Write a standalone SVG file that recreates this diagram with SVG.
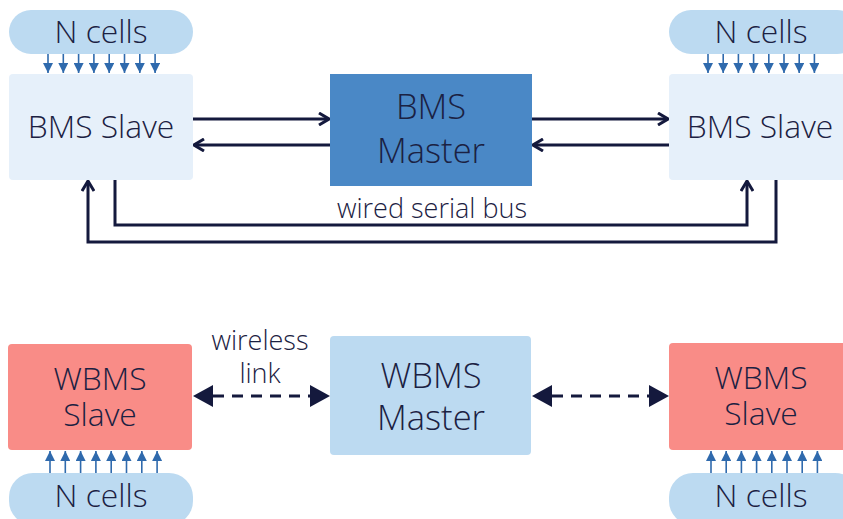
<svg xmlns="http://www.w3.org/2000/svg" width="843" height="519" viewBox="0 0 843 519">
<defs>
<style>
text{font-family:"Open Sans","Noto Sans","Liberation Sans",sans-serif;font-weight:300;fill:#1b2142;text-anchor:middle}
.t30{font-size:31.8px}
.t33{font-size:34.5px}
.t26{font-size:27px}
.cells{fill:#bcdaf1}
.slave{fill:#e6f0fa}
.wslave{fill:#f98c87}
.wire{fill:none;stroke:#14193d;stroke-width:3}
.dash{fill:none;stroke:#14193d;stroke-width:3;stroke-dasharray:11 8}
.ghost{fill:none;stroke:none}
.small{stroke:#2f6aad;stroke-width:1.6}
</style>
<marker id="open" viewBox="0 0 12 14" refX="11" refY="7" markerWidth="12" markerHeight="14" markerUnits="userSpaceOnUse" orient="auto">
<path d="M1,1 L11,7 L1,13" fill="none" stroke="#14193d" stroke-width="3"/>
</marker>
<marker id="solid" viewBox="0 0 20 22" refX="20" refY="11" markerWidth="20" markerHeight="22" markerUnits="userSpaceOnUse" orient="auto-start-reverse">
<path d="M0,0 L20,11 L0,22 Z" fill="#14193d"/>
</marker>
<marker id="tri" viewBox="0 0 10 10" refX="10" refY="5" markerWidth="10" markerHeight="10" markerUnits="userSpaceOnUse" orient="auto">
<path d="M0,0 L10,5 L0,10 Z" fill="#2f6aad"/>
</marker>
</defs>

<g id="cells-top-left">
<rect class="cells" x="9" y="10" width="184" height="44" rx="22"/>
<text class="t30" x="101" y="43">N cells</text>
</g>
<g id="cells-top-right">
<rect class="cells" x="669" y="10" width="190" height="44" rx="22"/>
<text class="t30" x="761" y="43">N cells</text>
</g>
<g id="slave-left">
<rect class="slave" x="9" y="74" width="184" height="106" rx="4"/>
<text class="t30" x="101" y="138">BMS Slave</text>
</g>
<g id="master">
<rect x="330" y="74" width="202" height="112" fill="#4a88c6"/>
<text class="t33" x="431" y="119">BMS</text>
<text class="t33" x="431" y="163">Master</text>
</g>
<g id="slave-right">
<rect class="slave" x="669" y="74" width="190" height="106" rx="4"/>
<text class="t30" x="760" y="138">BMS Slave</text>
</g>

<g id="wslave-left">
<rect class="wslave" x="8" y="344" width="184" height="106" rx="4"/>
<text class="t30" x="100" y="390">WBMS</text>
<text class="t30" x="100" y="426">Slave</text>
</g>
<g id="wmaster">
<rect x="330" y="336" width="201" height="119" rx="4" fill="#bcdaf1"/>
<text class="t33" x="431" y="388">WBMS</text>
<text class="t33" x="431" y="430">Master</text>
</g>
<g id="wslave-right">
<rect class="wslave" x="669" y="343" width="190" height="107" rx="4"/>
<text class="t30" x="761" y="389">WBMS</text>
<text class="t30" x="761" y="425">Slave</text>
</g>
<g id="cells-bottom-left">
<rect class="cells" x="9" y="473" width="184" height="52" rx="24"/>
<text class="t30" x="101" y="507">N cells</text>
</g>
<g id="cells-bottom-right">
<rect class="cells" x="669" y="473" width="190" height="52" rx="24"/>
<text class="t30" x="761" y="507">N cells</text>
</g>

<g id="connectors">
<line class="wire" x1="193" y1="119" x2="329" y2="119" marker-end="url(#open)"/>
<line class="wire" x1="330" y1="145" x2="194" y2="145" marker-end="url(#open)"/>
<line class="wire" x1="532" y1="119" x2="668" y2="119" marker-end="url(#open)"/>
<line class="wire" x1="669" y1="145" x2="533" y2="145" marker-end="url(#open)"/>
<polyline class="wire" points="115,180 115,225 747,225 747,181" marker-end="url(#open)"/>
<polyline class="wire" points="776,180 776,242 88,242 88,181" marker-end="url(#open)"/>
<text class="t26" x="432" y="218">wired serial bus</text>

<line class="dash" x1="213" y1="396" x2="310" y2="396"/>
<line class="ghost" x1="193" y1="396" x2="330" y2="396" marker-start="url(#solid)" marker-end="url(#solid)"/>
<line class="dash" x1="552" y1="396" x2="649" y2="396"/>
<line class="ghost" x1="532" y1="396" x2="669" y2="396" marker-start="url(#solid)" marker-end="url(#solid)"/>
<text class="t26" x="260" y="350">wireless</text>
<text class="t26" x="260" y="383">link</text>

<g class="small">
<line x1="48" y1="54" x2="48" y2="73" marker-end="url(#tri)"/>
<line x1="63.3" y1="54" x2="63.3" y2="73" marker-end="url(#tri)"/>
<line x1="78.6" y1="54" x2="78.6" y2="73" marker-end="url(#tri)"/>
<line x1="93.9" y1="54" x2="93.9" y2="73" marker-end="url(#tri)"/>
<line x1="109.2" y1="54" x2="109.2" y2="73" marker-end="url(#tri)"/>
<line x1="124.5" y1="54" x2="124.5" y2="73" marker-end="url(#tri)"/>
<line x1="139.8" y1="54" x2="139.8" y2="73" marker-end="url(#tri)"/>
<line x1="155.1" y1="54" x2="155.1" y2="73" marker-end="url(#tri)"/>

<line x1="708" y1="54" x2="708" y2="73" marker-end="url(#tri)"/>
<line x1="723.2" y1="54" x2="723.2" y2="73" marker-end="url(#tri)"/>
<line x1="738.4" y1="54" x2="738.4" y2="73" marker-end="url(#tri)"/>
<line x1="753.6" y1="54" x2="753.6" y2="73" marker-end="url(#tri)"/>
<line x1="768.8" y1="54" x2="768.8" y2="73" marker-end="url(#tri)"/>
<line x1="784" y1="54" x2="784" y2="73" marker-end="url(#tri)"/>
<line x1="799.2" y1="54" x2="799.2" y2="73" marker-end="url(#tri)"/>
<line x1="814.4" y1="54" x2="814.4" y2="73" marker-end="url(#tri)"/>

<line x1="50" y1="473" x2="50" y2="451" marker-end="url(#tri)"/>
<line x1="65.3" y1="473" x2="65.3" y2="451" marker-end="url(#tri)"/>
<line x1="80.6" y1="473" x2="80.6" y2="451" marker-end="url(#tri)"/>
<line x1="95.9" y1="473" x2="95.9" y2="451" marker-end="url(#tri)"/>
<line x1="111.2" y1="473" x2="111.2" y2="451" marker-end="url(#tri)"/>
<line x1="126.5" y1="473" x2="126.5" y2="451" marker-end="url(#tri)"/>
<line x1="141.8" y1="473" x2="141.8" y2="451" marker-end="url(#tri)"/>
<line x1="157.1" y1="473" x2="157.1" y2="451" marker-end="url(#tri)"/>

<line x1="711" y1="473" x2="711" y2="451" marker-end="url(#tri)"/>
<line x1="726.2" y1="473" x2="726.2" y2="451" marker-end="url(#tri)"/>
<line x1="741.4" y1="473" x2="741.4" y2="451" marker-end="url(#tri)"/>
<line x1="756.6" y1="473" x2="756.6" y2="451" marker-end="url(#tri)"/>
<line x1="771.8" y1="473" x2="771.8" y2="451" marker-end="url(#tri)"/>
<line x1="787" y1="473" x2="787" y2="451" marker-end="url(#tri)"/>
<line x1="802.2" y1="473" x2="802.2" y2="451" marker-end="url(#tri)"/>
<line x1="817.4" y1="473" x2="817.4" y2="451" marker-end="url(#tri)"/>
</g>
</g>
</svg>
